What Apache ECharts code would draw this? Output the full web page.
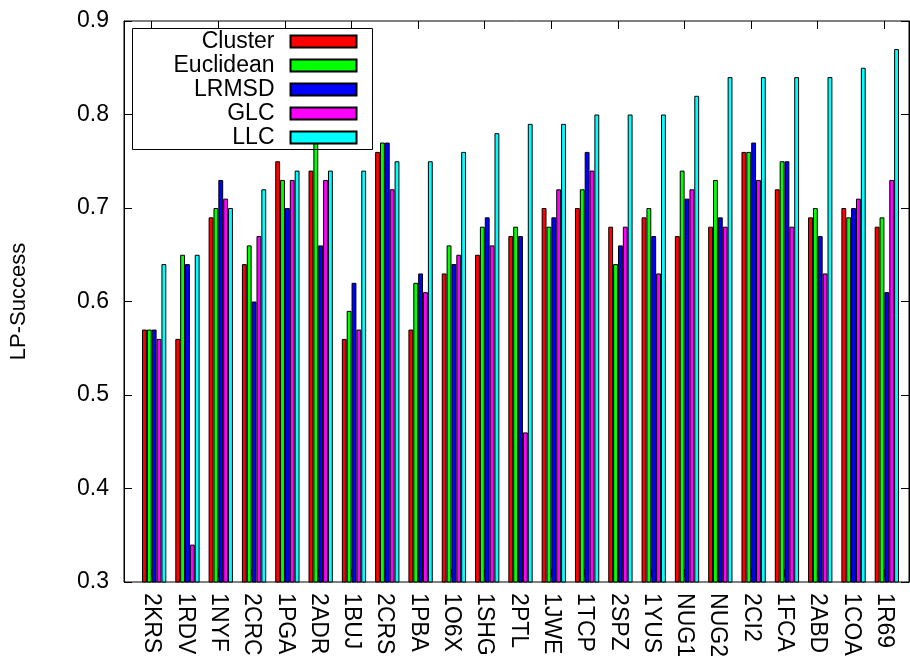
<!DOCTYPE html>
<html>
<head>
<meta charset="utf-8">
<script src="https://cdn.jsdelivr.net/npm/echarts@6/dist/echarts.min.js"></script>
<style>
html,body{margin:0;padding:0;background:#fff;}
#chart{width:910px;height:660px;}
</style>
</head>
<body>
<div id="chart"></div>
<script>
const categories = ['2KRS','1RDV','1NYF','2CRC','1PGA','2ADR','1BUJ','2CRS','1PBA','1O6X','1SHG','2PTL','1JWE','1TCP','2SPZ','1YUS','NUG1','NUG2','2CI2','1FCA','2ABD','1COA','1R69'];
const seriesNames = ['Cluster','Euclidean','LRMSD','GLC','LLC'];
const cluster   = [0.57,0.56,0.69,0.64,0.75,0.74,0.56,0.76,0.57,0.63,0.65,0.67,0.70,0.70,0.68,0.69,0.67,0.68,0.76,0.72,0.69,0.70,0.68];
const euclidean = [0.57,0.65,0.70,0.66,0.73,0.77,0.59,0.77,0.62,0.66,0.68,0.68,0.68,0.72,0.64,0.70,0.74,0.73,0.76,0.75,0.70,0.69,0.69];
const lrmsd     = [0.57,0.64,0.73,0.60,0.70,0.66,0.62,0.77,0.63,0.64,0.69,0.67,0.69,0.76,0.66,0.67,0.71,0.69,0.77,0.75,0.67,0.70,0.61];
const glc       = [0.56,0.34,0.71,0.67,0.73,0.73,0.57,0.72,0.61,0.65,0.66,0.46,0.72,0.74,0.68,0.63,0.72,0.68,0.73,0.68,0.63,0.71,0.73];
const llc       = [0.64,0.65,0.70,0.72,0.74,0.74,0.74,0.75,0.75,0.76,0.78,0.79,0.79,0.80,0.80,0.80,0.82,0.84,0.84,0.84,0.84,0.85,0.87];
const yTicks = [0.3,0.4,0.5,0.6,0.7,0.8,0.9];
const colors = ['#ff0000','#00ff00','#0000ff','#ff00ff','#00ffff'];
const allValues = [cluster, euclidean, lrmsd, glc, llc];

const FONT = 'Liberation Sans, Arial, Helvetica, sans-serif';
const chart = echarts.init(document.getElementById('chart'), null, {renderer:'canvas'});

const yBase = {
  type:'value', min:yTicks[0], max:yTicks[yTicks.length-1], interval:0.1,
  splitLine:{show:false}
};

const option = {
  animation:false,
  backgroundColor:'#fff',
  textStyle:{fontFamily:FONT},
  grid:[
    {left:118, right:1, top:21, bottom:78, show:true, borderColor:'#000', borderWidth:1, backgroundColor:'transparent'},
    {left:137.5, right:6.5, top:21, bottom:78},
    {left:135, right:9, top:21, bottom:78}
  ],
  legend:{
    orient:'vertical', align:'right', left:132.5, top:28.5,
    data:seriesNames,
    itemWidth:66, itemHeight:12, itemGap:0,
    padding:[1,15,0,41],
    borderColor:'#000', borderWidth:1, backgroundColor:'transparent',
    icon:'rect',
    textStyle:{fontFamily:FONT, fontSize:23, color:'#000', lineHeight:24, padding:[0,11,0,0]}
  },
  xAxis:[
    {gridIndex:0, type:'value', min:0, max:1, show:false},
    {gridIndex:1, type:'category', data:categories, show:false},
    {gridIndex:2, type:'category', data:categories, position:'bottom',
      axisLine:{show:false},
      axisTick:{show:true, inside:true, length:8, alignWithLabel:true, lineStyle:{color:'#000'}},
      axisLabel:{interval:0, rotate:-90, margin:16, fontSize:23, color:'#000', fontFamily:FONT}},
    {gridIndex:2, type:'category', data:categories, position:'top',
      axisLine:{show:false},
      axisTick:{show:true, inside:true, length:8, alignWithLabel:true, lineStyle:{color:'#000'}},
      axisLabel:{show:false}}
  ],
  yAxis:[
    Object.assign({}, yBase, {gridIndex:0, position:'left',
      axisLine:{show:true, lineStyle:{color:'#000'}},
      axisTick:{show:true, inside:true, length:8, lineStyle:{color:'#000'}},
      axisLabel:{margin:15, fontSize:23, color:'#000', fontFamily:FONT, formatter:v=>v.toFixed(1)},
      name:'LP-Success', nameLocation:'middle', nameGap:94, nameRotate:90,
      nameTextStyle:{fontSize:22, color:'#000', fontFamily:FONT}}),
    Object.assign({}, yBase, {gridIndex:0, position:'right',
      axisLine:{show:true, lineStyle:{color:'#000'}},
      axisTick:{show:true, inside:true, length:8, lineStyle:{color:'#000'}},
      axisLabel:{show:false}}),
    Object.assign({}, yBase, {gridIndex:1, show:false}),
    Object.assign({}, yBase, {gridIndex:2, show:false})
  ],
  series: seriesNames.map((name,i)=>({
    name:name, type:'bar', xAxisIndex:1, yAxisIndex:2,
    data:allValues[i],
    barWidth:4.86, barGap:'0%',
    itemStyle:{color:colors[i], borderColor:'#000', borderWidth:1},
    emphasis:{disabled:true}
  }))
};
chart.setOption(option);
</script>
</body>
</html>
